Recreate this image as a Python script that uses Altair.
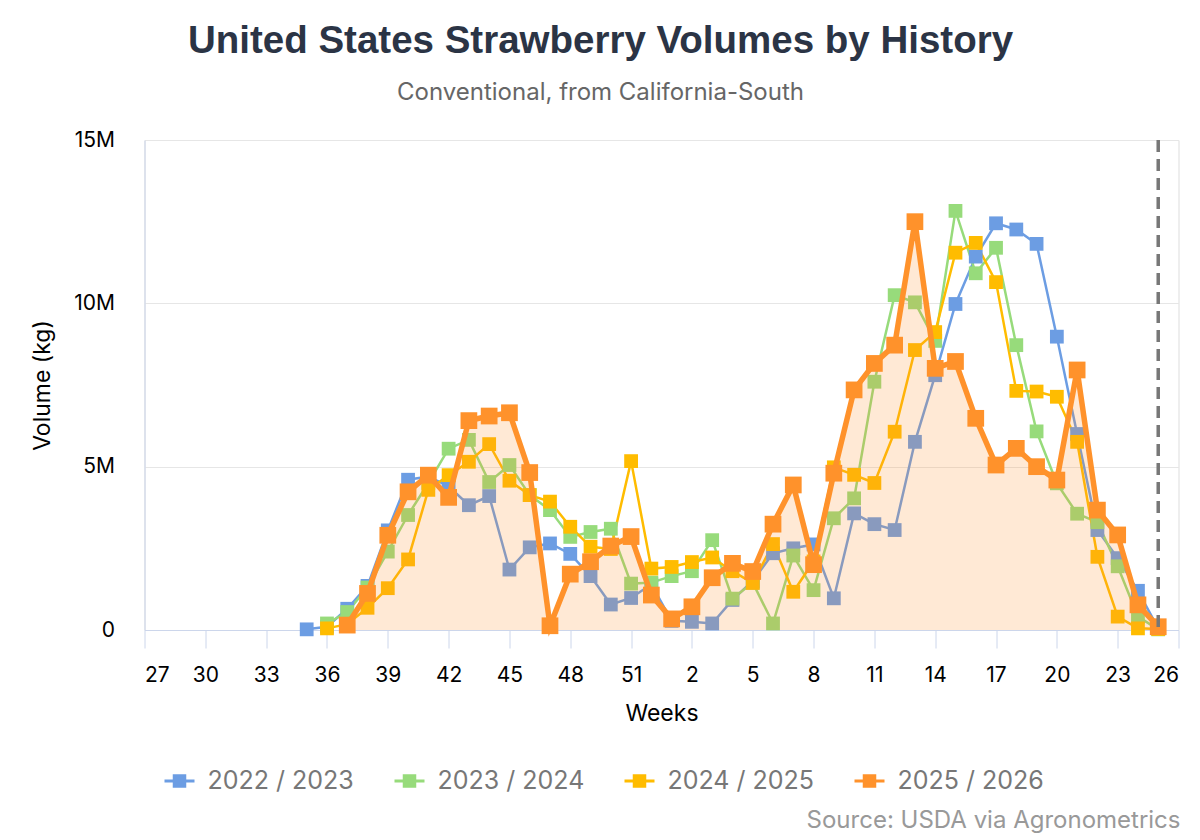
import altair as alt
import pandas as pd

# Marketing weeks shown on the chart (season runs from week 27 to week 26)
weeks = [35, 36, 37, 38, 39, 40, 41, 42, 43, 44, 45, 46, 47, 48, 49, 50, 51, 52,
         1, 2, 3, 4, 5, 6, 7, 8, 9, 10, 11, 12, 13, 14, 15, 16, 17, 18, 19, 20,
         21, 22, 23, 24, 25]

seasons = ["2022 / 2023", "2023 / 2024", "2024 / 2025", "2025 / 2026"]

# Weekly volumes, million kg
vol_2022_23 = [0.02, 0.10, 0.65, 1.35, 3.05, 4.60, 4.70, 4.40, 3.82, 4.10, 1.85, 2.53,
               2.65, 2.33, 1.65, 0.78, 0.98, 1.40, 0.28, 0.25, 0.20, 0.92, 1.50, 2.35,
               2.50, 2.62, 0.97, 3.57, 3.24, 3.06, 5.76, 7.80, 9.98, 11.43, 12.45,
               12.26, 11.82, 8.98, 6.00, 3.06, 2.20, 1.20, 0.05]
vol_2023_24 = [None, 0.20, 0.55, 1.30, 2.40, 3.52, 4.50, 5.55, 5.82, 4.53, 5.05, 4.13,
               3.67, 2.85, 3.00, 3.10, 1.42, 1.45, 1.65, 1.80, 2.75, 0.96, 1.45, 0.20,
               2.28, 1.22, 3.42, 4.03, 7.60, 10.25, 10.03, 8.85, 12.83, 10.92, 11.70,
               8.72, 6.08, 4.49, 3.56, 3.30, 1.95, 0.41, 0.02]
vol_2024_25 = [None, 0.05, 0.18, 0.68, 1.28, 2.16, 4.29, 4.74, 5.15, 5.69, 4.57, 4.13,
               3.93, 3.16, 2.55, 2.48, 5.17, 1.88, 1.93, 2.08, 2.22, 1.80, 1.44, 2.63,
               1.17, 2.10, 4.98, 4.75, 4.50, 6.07, 8.57, 9.12, 11.55, 11.85, 10.65,
               7.32, 7.30, 7.14, 5.76, 2.24, 0.41, 0.05, 0.03]
vol_2025_26 = [None, None, 0.15, 1.12, 2.90, 4.23, 4.74, 4.06, 6.41, 6.55, 6.65, 4.82,
               0.13, 1.71, 2.09, 2.57, 2.86, 1.07, 0.34, 0.71, 1.60, 2.04, 1.79, 3.24,
               4.44, 2.00, 4.80, 7.35, 8.16, 8.72, 12.50, 8.01, 8.22, 6.48, 5.05, 5.56,
               5.00, 4.59, 7.96, 3.67, 2.91, 0.77, 0.10]

colors = ["#6c9de3", "#97db7b", "#ffbc00", "#ff922b"]
current_week = 25
source_note = "Source: USDA via Agronometrics"


def week_index(w):
    # position of a week within the July-to-June season
    return w - 27 if w >= 27 else w + 25


rows = []
for season, vals in zip(seasons, [vol_2022_23, vol_2023_24, vol_2024_25, vol_2025_26]):
    for w, v in zip(weeks, vals):
        if v is not None:
            rows.append({"season": season, "week": w, "idx": week_index(w),
                         "volume": v * 1e6})
df = pd.DataFrame(rows)

FONT = "Inter"

x_enc = alt.X(
    "idx:Q",
    scale=alt.Scale(domain=[0, 51], nice=False, zero=False),
    axis=alt.Axis(
        title="Weeks",
        values=list(range(0, 52, 3)),
        labelExpr="datum.value <= 25 ? datum.value + 27 : datum.value - 25",
        grid=False,
        domainColor="#ccd6eb",
        tickColor="#ccd6eb",
        tickSize=18,
        labelPadding=16,
        labelFontSize=21,
        labelColor="#000000",
        labelFont=FONT,
        titleFont=FONT,
        titleFontSize=23,
        titleFontWeight="normal",
        titleColor="#000000",
        titlePadding=17,
    ),
)
y_enc = alt.Y(
    "volume:Q",
    scale=alt.Scale(domain=[0, 15e6], nice=False),
    axis=alt.Axis(
        title="Volume (kg)",
        values=[0, 5e6, 10e6, 15e6],
        labelExpr="datum.value == 0 ? '0' : format(datum.value / 1e6, 'd') + 'M'",
        ticks=False,
        domain=True,
        domainColor="#ccd6eb",
        gridColor="#e6e6e6",
        labelPadding=30,
        labelFontSize=21,
        labelColor="#000000",
        labelFont=FONT,
        titleFont=FONT,
        titleFontSize=23,
        titleFontWeight="normal",
        titleColor="#000000",
        titlePadding=19,
    ),
)

legend_symbol = "M-1,-0.1H1V0.1H-1Z M-0.45,-0.45H0.45V0.45H-0.45Z"
color_enc = alt.Color(
    "season:N",
    scale=alt.Scale(domain=seasons, range=colors),
    legend=alt.Legend(
        title=None,
        orient="none",
        legendX=20,
        legendY=626,
        direction="horizontal",
        symbolType=legend_symbol,
        symbolSize=900,
        symbolStrokeWidth=0,
        symbolOpacity=1,
        labelFont=FONT,
        labelFontSize=25,
        labelColor="#777777",
        labelOffset=13,
        columnPadding=40,
    ),
)

base = alt.Chart(df).encode(x=x_enc, y=y_enc, color=color_enc)

history = base.transform_filter(alt.datum.season != seasons[-1])
hist_lines = history.mark_line(strokeWidth=2.5)
hist_points = history.mark_point(shape="square", filled=True, size=190, opacity=1)

current = base.transform_filter(alt.datum.season == seasons[-1])
cur_area = alt.Chart(df).transform_filter(alt.datum.season == seasons[-1]).mark_area(
    color=colors[-1], opacity=0.2
).encode(x=x_enc, y=y_enc)
cur_line = current.mark_line(strokeWidth=5.5)
cur_points = current.mark_point(shape="square", filled=True, size=280, opacity=1)

now_rule = alt.Chart(pd.DataFrame({"idx": [week_index(current_week)]})).mark_rule(
    color="#777777", strokeWidth=3.5, strokeDash=[12, 7]
).encode(x=x_enc)

source = alt.Chart(pd.DataFrame({"t": [source_note]})).mark_text(
    align="right", baseline="middle", font=FONT, fontSize=24, color="#999999"
).encode(text="t:N", x=alt.value(1036), y=alt.value(681))

chart = alt.layer(
    hist_lines, hist_points, cur_area, cur_line, cur_points, now_rule, source
).properties(
    width=1034,
    height=490,
    padding={"left": 144.5, "top": 140, "right": 21.5, "bottom": 210},
    autosize=alt.AutoSizeParams(type="none"),
    title=alt.TitleParams(
        text="United States Strawberry Volumes by History",
        subtitle="Conventional, from California-South",
        anchor="middle",
        dx=-61,
        font="Liberation Sans",
        fontSize=38.5,
        fontWeight="bold",
        color="#2b3445",
        subtitleFont=FONT,
        subtitleFontSize=24,
        subtitleColor="#666666",
        subtitlePadding=20,
        offset=23,
    ),
).configure_view(stroke=None).configure(background="white")

chart.save("out.html", embed_options={"renderer": "svg", "actions": False})
